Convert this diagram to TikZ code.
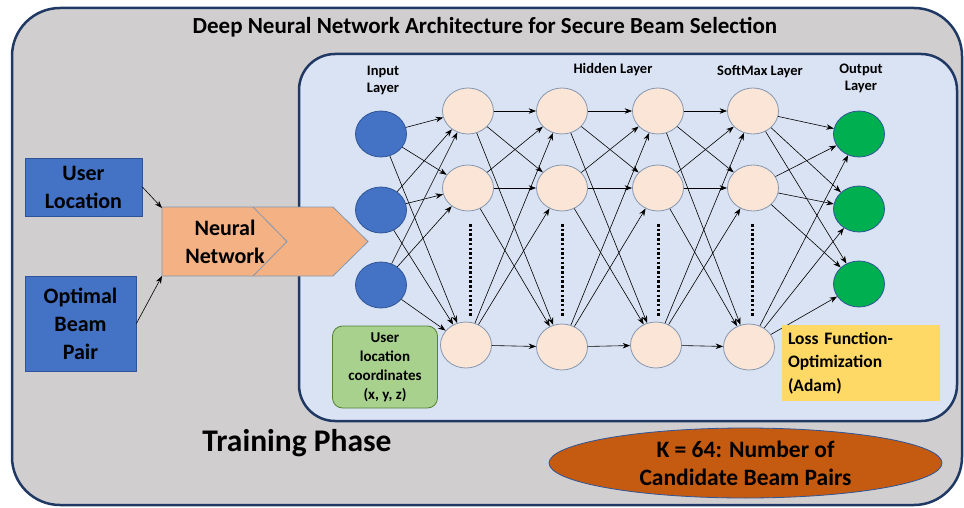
\documentclass[tikz,border=0pt]{standalone}
\usepackage{fontspec}
\setmainfont{Carlito}
\usetikzlibrary{shapes.geometric,arrows.meta}
\definecolor{navy}{HTML}{1F3864}
\definecolor{outerfill}{HTML}{D0CECE}
\definecolor{innerfill}{HTML}{DAE3F3}
\definecolor{bluefill}{HTML}{4472C4}
\definecolor{blueedge}{HTML}{2F5597}
\definecolor{peach}{HTML}{FBE5D6}
\definecolor{peachedge}{HTML}{8497B0}
\definecolor{outgreen}{HTML}{00B050}
\definecolor{nnfill}{HTML}{F4B183}
\definecolor{lgreen}{HTML}{A9D18E}
\definecolor{lgreenedge}{HTML}{548235}
\definecolor{lossfill}{HTML}{FFD966}
\definecolor{kfill}{HTML}{C55A11}
\tikzset{
  neuron/.style={ellipse,minimum width=51pt,minimum height=46pt,inner sep=0pt,line width=0.8pt},
  inneuron/.style={neuron,fill=bluefill,draw=blueedge},
  hidneuron/.style={neuron,fill=peach,draw=peachedge},
  outneuron/.style={neuron,fill=outgreen,draw=blueedge},
  conn/.style={-{Stealth[length=7.5pt,width=5.5pt]},line width=0.6pt,black},
  lbl/.style={font=\fontsize{14.5}{17}\selectfont\bfseries,align=center,inner sep=0pt},
  leftbox/.style={draw=blueedge,fill=bluefill,line width=0.8pt,font=\fontsize{22}{28}\selectfont\bfseries,align=center,inner sep=0pt},
  dotcol/.style={line width=3pt,dash pattern=on 2.5pt off 2.2pt}
}
\begin{document}
\begin{tikzpicture}[x=1pt,y=-1pt]
\useasboundingbox (0,0) rectangle (964,508);
% outer frame
\draw[navy,line width=2.5pt,fill=outerfill,rounded corners=48pt] (12,8) rectangle (962,505);
\node[font=\fontsize{23}{26}\selectfont\bfseries] (title) at (485,27) {Deep Neural Network Architecture for Secure Beam Selection};
% inner frame
\draw[navy,line width=2.5pt,fill=innerfill,rounded corners=36pt] (299,54) rectangle (957,421);

% left boxes
\node[leftbox,minimum width=117pt,minimum height=58pt] (uloc) at (83.5,187) {User\\Location};
\node[leftbox,minimum width=111pt,minimum height=95pt] (obp) at (80.5,323.5) {Optimal\\Beam\\Pair};

% neural network arrow shape
\draw[fill=nnfill,draw=peachedge,line width=0.8pt] (162,207) -- (333,207) -- (368,241.5) -- (333,276) -- (162,276) -- cycle;
\draw[draw=peachedge,line width=0.8pt] (253,207) -- (287,241.5) -- (253,276);
\coordinate (nnA) at (162,208);
\coordinate (nnB) at (162,276);
\node[font=\fontsize{22}{28}\selectfont\bfseries,align=center] (nn) at (225,241.5) {Neural\\Network};
\draw[conn] (uloc.east) -- (nnA);
\draw[conn] (obp.east) -- (nnB);

% layer labels
\node[lbl] (lin) at (383,80) {Input\\Layer};
\node[lbl] (lhid) at (613,70) {Hidden Layer};
\node[lbl] (lsm) at (760,72) {SoftMax Layer};
\node[lbl] (lout) at (861,78) {Output\\Layer};

% neurons
\node[inneuron] (i1) at (381,134) {};
\node[inneuron] (i2) at (381,210) {};
\node[inneuron] (i3) at (381,285) {};

\node[hidneuron] (a1) at (468,111) {};
\node[hidneuron] (a2) at (468,188) {};
\node[hidneuron] (a3) at (466,345) {};

\node[hidneuron] (b1) at (562,111) {};
\node[hidneuron] (b2) at (562,188) {};
\node[hidneuron] (b3) at (562,347) {};

\node[hidneuron] (c1) at (658,111) {};
\node[hidneuron] (c2) at (658,188) {};
\node[hidneuron] (c3) at (656,345) {};

\node[hidneuron] (s1) at (753,111) {};
\node[hidneuron] (s2) at (753,188) {};
\node[hidneuron] (s3) at (749,347) {};

\node[outneuron] (o1) at (859,134) {};
\node[outneuron] (o2) at (859,209) {};
\node[outneuron] (o3) at (859,284) {};

% dotted columns
\foreach \xx in {470,562,658,752} {
  \draw[dotcol] (\xx,224) -- (\xx,317);
}

% connections
\foreach \src in {i1,i2,i3} \foreach \dst in {a1,a2,a3} \draw[conn] (\src) -- (\dst);
\foreach \src in {a1,a2,a3} \foreach \dst in {b1,b2,b3} \draw[conn] (\src) -- (\dst);
\foreach \src in {b1,b2,b3} \foreach \dst in {c1,c2,c3} \draw[conn] (\src) -- (\dst);
\foreach \src in {c1,c2,c3} \foreach \dst in {s1,s2,s3} \draw[conn] (\src) -- (\dst);
\foreach \src in {s1,s2,s3} \foreach \dst in {o1,o2,o3} \draw[conn] (\src) -- (\dst);

% green box
\node[draw=lgreenedge,fill=lgreen,line width=0.8pt,rounded corners=10pt,minimum width=105pt,minimum height=82pt,inner sep=0pt,align=center,font=\fontsize{15}{19}\selectfont\bfseries] (ucoord) at (385,367) {User\\location\\coordinates\\(x, y, z)};

% loss box
\node[fill=lossfill,minimum width=158pt,minimum height=76pt,inner sep=0pt,text width=146pt,align=left,font=\fontsize{17.5}{23.5}\selectfont\bfseries] (loss) at (861,363) {Loss Function-\\Optimization\\(Adam)};

% training phase
\node[font=\fontsize{31.5}{36}\selectfont\bfseries] (train) at (297,443) {Training Phase};

% K ellipse
\node[ellipse,draw=blueedge,fill=kfill,line width=0.8pt,minimum width=393pt,minimum height=70pt,inner sep=0pt,align=center,font=\fontsize{23.5}{28}\selectfont\bfseries] (kell) at (745.5,463) {K = 64: Number of\\Candidate Beam Pairs};
\end{tikzpicture}
\end{document}
